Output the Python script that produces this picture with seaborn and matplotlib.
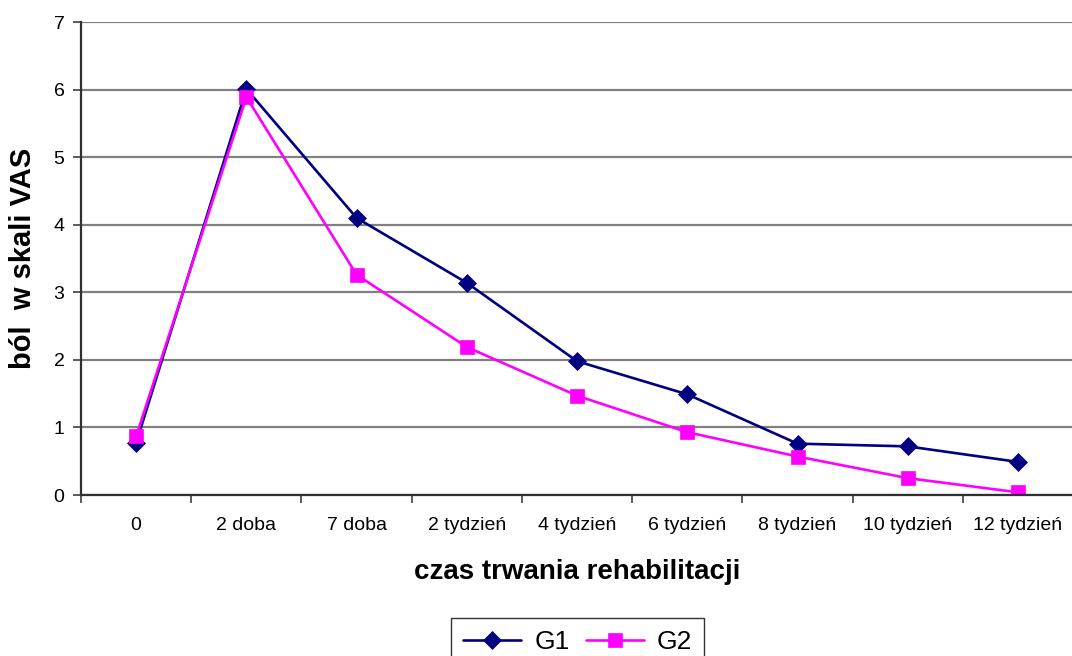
import matplotlib
matplotlib.use("Agg")
import matplotlib.pyplot as plt
import seaborn as sns
import pandas as pd
from matplotlib.ticker import FixedLocator, NullFormatter

# Pain scores (VAS) over the rehabilitation period for two groups
periods = ["0", "2 doba", "7 doba", "2 tydzień", "4 tydzień",
           "6 tydzień", "8 tydzień", "10 tydzień", "12 tydzień"]
g1 = [0.77, 6.01, 4.10, 3.14, 1.98, 1.49, 0.76, 0.72, 0.49]
g2 = [0.87, 5.89, 3.26, 2.19, 1.47, 0.93, 0.57, 0.25, 0.04]
groups = ["G1", "G2"]
colors = {"G1": "#000080", "G2": "#FF00FF"}
markers = {"G1": "D", "G2": "s"}

df = pd.DataFrame({
    "okres": periods * 2,
    "ból": g1 + g2,
    "grupa": ["G1"] * len(periods) + ["G2"] * len(periods),
})

sns.set_style("white")
plt.rcParams["font.family"] = ["Liberation Sans", "DejaVu Sans"]
plt.rcParams["text.color"] = "black"
plt.rcParams["axes.labelcolor"] = "black"
plt.rcParams["xtick.color"] = "black"
plt.rcParams["ytick.color"] = "black"

fig = plt.figure(figsize=(10.72, 6.56), dpi=100)
ax = fig.add_axes([0.0756, 0.2454, 0.9254, 0.721])

sns.lineplot(data=df, x="okres", y="ból", hue="grupa", style="grupa",
             palette=colors, markers=markers, dashes=False, sort=False,
             linewidth=1.9, markersize=10, ax=ax, legend=True)
for line in ax.lines:
    line.set_markeredgecolor(line.get_color())
    line.set_markeredgewidth(0.5)
    if line.get_marker() == "D":
        line.set_markersize(9.5)

ax.set_xlim(-0.5, len(periods) - 0.5)
ax.set_ylim(0, 7)
ax.set_yticks(range(0, 8))
ax.yaxis.grid(True, color="#808080", linewidth=1.6)
ax.set_axisbelow(True)

# category ticks sit between the labels
ax.xaxis.set_major_locator(FixedLocator(range(len(periods))))
ax.set_xticklabels(periods)
ax.tick_params(axis="x", which="major", length=0, labelsize=14, pad=16,
               labelcolor="black")
ax.xaxis.set_minor_locator(FixedLocator([i - 0.5 for i in range(len(periods) + 1)]))
ax.xaxis.set_minor_formatter(NullFormatter())
ax.tick_params(axis="x", which="minor", length=6, width=1.2, color="#404040",
               direction="out", bottom=True)
ax.tick_params(axis="y", length=6, width=1.2, color="#404040", direction="out",
               left=True, labelsize=14, pad=6, labelcolor="black")

for side in ["top", "right"]:
    ax.spines[side].set_visible(False)
for side in ["left", "bottom"]:
    ax.spines[side].set_color("#303030")
    ax.spines[side].set_linewidth(1.6)

ax.set_xlabel("czas trwania rehabilitacji", fontsize=20, fontweight="bold",
              labelpad=18, color="black")
ax.set_ylabel("ból  w skali VAS", fontsize=21, fontweight="bold", labelpad=12,
              color="black")

handles, labels = ax.get_legend_handles_labels()
ax.get_legend().remove()
leg = fig.legend(handles, labels, loc="upper center", ncol=2,
                 bbox_to_anchor=(0.539, 1 - 618 / 656), fontsize=19,
                 frameon=True, fancybox=False, edgecolor="black",
                 handlelength=2.2, columnspacing=0.6, borderpad=0.45,
                 handletextpad=0.5, borderaxespad=0.0)
leg.get_frame().set_linewidth(1.0)

fig.savefig("out.png", dpi=100)
